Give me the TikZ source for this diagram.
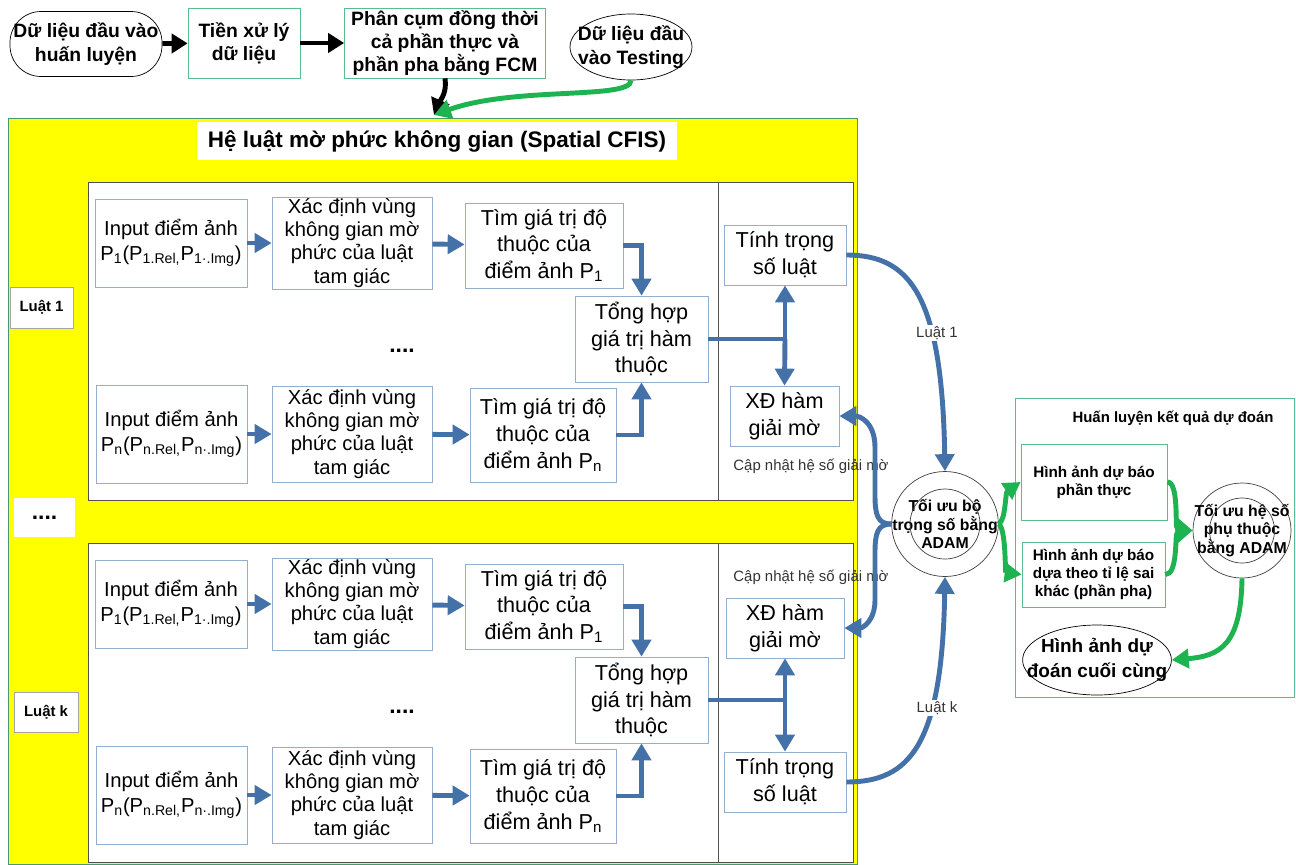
\documentclass[tikz,border=0pt]{standalone}
\usepackage{fontspec}
\setmainfont{Liberation Sans}
\usepackage{xcolor}
\usetikzlibrary{shapes.geometric,arrows.meta,positioning,calc}
\definecolor{cfisyellow}{HTML}{FFFF00}
\definecolor{cfisblue}{HTML}{4472A8}
\definecolor{boxblue}{HTML}{95AECB}
\definecolor{adamgreen}{HTML}{1DB350}
\definecolor{boxgreen}{HTML}{5CBD8C}
\definecolor{panelgray}{HTML}{505050}
\tikzset{
  terminal/.style={rectangle, rounded corners=0.62cm, draw=black, fill=white, align=center, inner sep=1pt, font=\bfseries\fontsize{11}{13.5}\selectfont},
  oval/.style={ellipse, draw=black, fill=white, align=center, inner sep=-0.35cm},
  prebox/.style={rectangle, draw=boxgreen, fill=white, align=center, inner sep=1pt, font=\bfseries\fontsize{11}{13}\selectfont},
  cfisbox/.style={rectangle, draw=boxgreen!80!black, fill=cfisyellow, minimum width=16.98cm, minimum height=14.92cm},
  panel/.style={rectangle, draw=panelgray, fill=white},
  rulelabel/.style={rectangle, draw=gray!70, fill=white, font=\bfseries\fontsize{8.5}{10}\selectfont},
  inbox/.style={rectangle, draw=boxblue, fill=white, align=center, inner sep=1pt, minimum width=3.04cm, minimum height=1.76cm, font=\fontsize{11.5}{14}\selectfont},
  regbox/.style={inbox, minimum width=3.2cm, font=\fontsize{11.5}{13.2}\selectfont},
  membox/.style={inbox, font=\fontsize{12.3}{15.2}\selectfont},
  dotsnode/.style={font=\bfseries\fontsize{13}{15}\selectfont},
  smalltxt/.style={font=\fontsize{8.5}{10}\selectfont, text=black!80},
  adamnode/.style={ellipse, draw=black!75, fill=white, align=center, inner sep=-0.3cm, font=\bfseries\fontsize{9}{10.3}\selectfont},
  predbox/.style={rectangle, draw=boxgreen, fill=white, align=center, inner sep=1pt, font=\bfseries\fontsize{8.7}{10.4}\selectfont},
  barrow/.style={draw=cfisblue, line width=2.8pt, -{Triangle[length=3.4mm,width=3.8mm]}},
  bline/.style={draw=cfisblue, line width=2.8pt},
  garrow/.style={draw=adamgreen, line width=2.8pt, -{Triangle[length=3.4mm,width=3.8mm]}},
  karrow/.style={draw=black, line width=2.8pt, -{Triangle[length=3.2mm,width=3.8mm]}},
}

\begin{document}
\begin{tikzpicture}
  \useasboundingbox (0,0) rectangle (25.92,-17.28);
  % input side
  \node[terminal, minimum width=3.04cm, minimum height=1.30cm] (trainin) at (1.72,-0.88) {Dữ liệu đầu vào\\huấn luyện};
  \node[prebox, minimum width=2.24cm, minimum height=1.40cm] (prep) at (4.88,-0.86) {Tiền xử lý\\dữ liệu};
  \node[prebox, minimum width=4.02cm, minimum height=1.40cm] (fcm) at (8.90,-0.86) {Phân cụm đồng thời\\cả phần thực và\\phần pha bằng FCM};
  \node[oval, minimum width=2.44cm, minimum height=1.32cm, font=\bfseries\fontsize{11}{13.5}\selectfont] (testin) at (12.62,-0.94) {Dữ liệu đầu\\vào Testing};
  \coordinate (join) at (8.68,-2.30);
  \draw[karrow] (trainin) -- (prep);
  \draw[karrow] (prep) -- (fcm);
  \draw[karrow] (fcm.south) .. controls (8.94,-1.85) and (8.82,-1.98) .. (join);
  \draw[garrow] (testin.south) .. controls (12.62,-2.0) and (10.3,-1.72) .. (join);

  % spatial CFIS
  \node[cfisbox] (cfis) at (8.65,-9.82) {};
  \node[fill=white, minimum width=9.6cm, minimum height=0.76cm, font=\bfseries\fontsize{12.8}{15}\selectfont] (title) at (8.74,-2.82) {Hệ luật mờ phức không gian (Spatial CFIS)};
  \node[panel, minimum width=15.30cm, minimum height=6.36cm] (panel1) at (9.41,-6.82) {};
  \node[panel, minimum width=2.70cm, minimum height=6.36cm] (col1) at (15.71,-6.82) {};
  \node[panel, minimum width=15.30cm, minimum height=6.38cm] (panelk) at (9.41,-14.05) {};
  \node[panel, minimum width=2.70cm, minimum height=6.38cm] (colk) at (15.71,-14.05) {};
  \node[rulelabel, minimum width=1.26cm, minimum height=0.82cm] (lab1) at (0.83,-6.15) {Luật 1};
  \node[fill=white, minimum width=1.22cm, minimum height=0.78cm, dotsnode] (labdots) at (0.89,-10.35) {....};
  \node[rulelabel, minimum width=1.28cm, minimum height=0.80cm] (labk) at (0.92,-14.24) {Luật k};

  % luat 1
  \node[inbox] (in1a) at (3.42,-4.86) {Input điểm ảnh\\P\textsubscript{1}(P\textsubscript{1.Rel,}P\textsubscript{1·.Img})};
  \node[regbox] (reg1a) at (7.04,-4.86) {Xác định vùng\\không gian mờ\\phức của luật\\tam giác};
  \node[membox, minimum width=3.16cm, minimum height=1.70cm] (mem1a) at (10.88,-4.91) {Tìm giá trị độ\\thuộc của\\điểm ảnh P\textsubscript{1}};
  \node[membox, minimum width=2.66cm, minimum height=1.72cm] (agg1) at (12.83,-6.78) {Tổng hợp\\giá trị hàm\\thuộc};
  \node[dotsnode] (dots1) at (8.04,-7.02) {....};
  \node[inbox, minimum width=3.02cm, minimum height=1.96cm] (in1b) at (3.43,-8.68) {Input điểm ảnh\\P\textsubscript{n}(P\textsubscript{n.Rel,}P\textsubscript{n·.Img})};
  \node[regbox, minimum height=1.92cm] (reg1b) at (7.04,-8.68) {Xác định vùng\\không gian mờ\\phức của luật\\tam giác};
  \node[membox, minimum width=2.92cm, minimum height=1.88cm] (mem1b) at (10.86,-8.70) {Tìm giá trị độ\\thuộc của\\điểm ảnh P\textsubscript{n}};
  \node[membox, minimum width=2.44cm, minimum height=1.20cm] (wt1) at (15.70,-5.10) {Tính trọng\\số luật};
  \node[membox, minimum width=2.18cm, minimum height=1.20cm] (dfz1) at (15.69,-8.32) {XĐ hàm\\giải mờ};
  \node[smalltxt] (upd1) at (16.22,-9.32) {Cập nhật hệ số giải mờ};
  \coordinate (j1) at (wt1.south |- agg1.east);
  \draw[barrow] (in1a) -- (reg1a); \draw[barrow] (reg1a) -- (mem1a);
  \draw[barrow] (in1b) -- (reg1b); \draw[barrow] (reg1b) -- (mem1b);
  \draw[barrow] (mem1a.east) -| (agg1.north); \draw[barrow] (mem1b.east) -| (agg1.south);
  \draw[bline] (agg1.east) -- (j1);
  \draw[barrow] (j1) -- (wt1.south); \draw[barrow] (j1) -- (dfz1.north);

  % luat k
  \node[inbox] (inka) at (3.42,-12.08) {Input điểm ảnh\\P\textsubscript{1}(P\textsubscript{1.Rel,}P\textsubscript{1·.Img})};
  \node[regbox] (regka) at (7.04,-12.08) {Xác định vùng\\không gian mờ\\phức của luật\\tam giác};
  \node[membox, minimum width=3.16cm, minimum height=1.70cm] (memka) at (10.88,-12.13) {Tìm giá trị độ\\thuộc của\\điểm ảnh P\textsubscript{1}};
  \node[membox, minimum width=2.66cm, minimum height=1.72cm] (aggk) at (12.83,-14.00) {Tổng hợp\\giá trị hàm\\thuộc};
  \node[dotsnode] (dotsk) at (8.04,-14.24) {....};
  \node[inbox, minimum width=3.02cm, minimum height=1.96cm] (inkb) at (3.43,-15.90) {Input điểm ảnh\\P\textsubscript{n}(P\textsubscript{n.Rel,}P\textsubscript{n·.Img})};
  \node[regbox, minimum height=1.92cm] (regkb) at (7.04,-15.90) {Xác định vùng\\không gian mờ\\phức của luật\\tam giác};
  \node[membox, minimum width=2.92cm, minimum height=1.88cm] (memkb) at (10.86,-15.92) {Tìm giá trị độ\\thuộc của\\điểm ảnh P\textsubscript{n}};
  \node[smalltxt] (updk) at (16.22,-11.54) {Cập nhật hệ số giải mờ};
  \node[membox, minimum width=2.36cm, minimum height=1.20cm] (dfzk) at (15.70,-12.56) {XĐ hàm\\giải mờ};
  \node[membox, minimum width=2.44cm, minimum height=1.20cm] (wtk) at (15.70,-15.64) {Tính trọng\\số luật};
  \coordinate (jk) at (wtk.north |- aggk.east);
  \draw[barrow] (inka) -- (regka); \draw[barrow] (regka) -- (memka);
  \draw[barrow] (inkb) -- (regkb); \draw[barrow] (regkb) -- (memkb);
  \draw[barrow] (memka.east) -| (aggk.north); \draw[barrow] (memkb.east) -| (aggk.south);
  \draw[bline] (aggk.east) -- (jk);
  \draw[barrow] (jk) -- (dfzk.south); \draw[barrow] (jk) -- (wtk.north);

  % toi uu trong so
  \node[adamnode, minimum width=2.08cm, minimum height=2.10cm] (adam) at (18.90,-10.48) {Tối ưu bộ\\trọng số bằng\\ADAM};
  \draw[black!75] (adam.center) circle (0.70cm);
  \draw[barrow] (wt1.east) .. controls (18.2,-5.10) and (18.84,-5.9) .. (adam.north);
  \draw[barrow] (wtk.east) .. controls (18.2,-15.64) and (18.84,-14.9) .. (adam.south);
  \node[smalltxt, fill=white, inner sep=1pt] (lbl1) at (18.74,-6.66) {Luật 1};
  \node[smalltxt, fill=white, inner sep=1pt] (lblk) at (18.74,-14.16) {Luật k};
  \draw[barrow] (adam.west) .. controls (17.55,-10.48) and (17.50,-10.3) .. (17.50,-9.9) -- (17.50,-8.95) .. controls (17.50,-8.45) and (17.2,-8.32) .. (dfz1.east);
  \draw[barrow] (adam.west) .. controls (17.55,-10.48) and (17.50,-10.66) .. (17.50,-11.06) -- (17.50,-12.0) .. controls (17.50,-12.42) and (17.25,-12.56) .. (dfzk.east);

  % huan luyen ket qua
  \node[rectangle, draw=boxgreen, minimum width=5.58cm, minimum height=5.98cm] (hl) at (23.09,-10.95) {};
  \node[font=\bfseries\fontsize{8.5}{10}\selectfont] (hltitle) at (23.46,-8.36) {Huấn luyện kết quả dự đoán};
  \node[predbox, minimum width=2.92cm, minimum height=1.52cm] (pt) at (21.88,-9.64) {Hình ảnh dự báo\\phần thực};
  \node[predbox, minimum width=2.86cm, minimum height=1.30cm] (pp) at (21.87,-11.49) {Hình ảnh dự báo\\dựa theo tỉ lệ sai\\khác (phần pha)};
  \node[adamnode, minimum width=1.96cm, minimum height=1.90cm] (adam2) at (24.84,-10.61) {Tối ưu hệ số\\phụ thuộc\\bằng ADAM};
  \draw[black!75] (adam2.center) circle (0.65cm);
  \node[oval, minimum width=2.96cm, minimum height=1.40cm, font=\bfseries\fontsize{10.8}{14}\selectfont] (final) at (21.94,-13.20) {Hình ảnh dự\\đoán cuối cùng};
  \draw[garrow] (adam.east) .. controls (20.12,-10.40) and (20.10,-9.85) .. (pt.west);
  \draw[garrow] (adam.east) .. controls (20.12,-10.56) and (20.10,-11.45) .. (pp.west);
  \draw[garrow] (pt.east) .. controls (23.58,-9.64) and (23.50,-10.55) .. (adam2.west);
  \draw[garrow] (pp.east) .. controls (23.56,-11.50) and (23.50,-10.67) .. (adam2.west);
  \draw[garrow] (adam2.south) .. controls (24.82,-12.9) and (24.4,-13.12) .. (final.east);
\end{tikzpicture}
\end{document}
